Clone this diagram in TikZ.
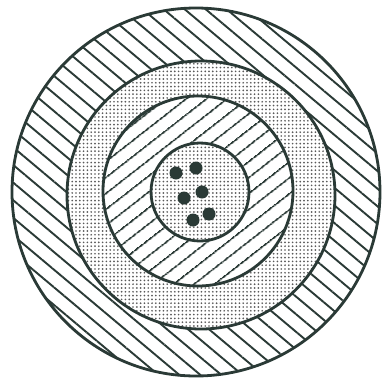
\documentclass[tikz,border=0pt]{standalone}
\usetikzlibrary{patterns.meta}
\definecolor{cableline}{RGB}{42,58,54}
\definecolor{stipple}{RGB}{90,90,90}
\tikzset{
  rim/.style={draw=cableline, line width=2.8pt},
  hatchout/.style={pattern={Lines[angle=-40, distance=13.5pt, line width=1.9pt]},
    pattern color=cableline},
  hatchin/.style={pattern={Lines[angle=38, distance=13pt, line width=1.9pt]},
    pattern color=cableline},
  stippled/.style={pattern={Dots[distance=3.8pt, radius=0.95pt]},
    pattern color=stipple},
  strand/.style={fill=cableline},
}

\begin{document}
\begin{tikzpicture}[x=1pt, y=-1pt]
  \useasboundingbox (0,0) rectangle (381,383);
  \fill[white] (0,0) rectangle (381,383);
  % ring centres
  \coordinate (jacket) at (196,192);
  \coordinate (armour) at (201,195);
  \coordinate (sheath) at (198,191);
  \coordinate (core) at (200,192);
  % outer hatched jacket
  \path[hatchout] (jacket) circle (184pt);
  % stippled ring
  \fill[white] (armour) circle (134pt);
  \path[stippled] (armour) circle (134pt);
  % inner hatched sheath
  \fill[white] (sheath) circle (95pt);
  \path[hatchin] (sheath) circle (95pt);
  % stippled core
  \fill[white] (core) circle (49pt);
  \path[stippled] (core) circle (49pt);
  % outlines
  \draw[rim] (jacket) circle (184pt);
  \draw[rim] (armour) circle (134pt);
  \draw[rim] (sheath) circle (95pt);
  \draw[rim] (core) circle (49pt);
  % conductors
  \foreach \x/\y in {176/173, 196/168, 184/198, 202/192, 209/214, 193/220}
    \fill[strand] (\x,\y) circle (6.5pt);
\end{tikzpicture}
\end{document}
